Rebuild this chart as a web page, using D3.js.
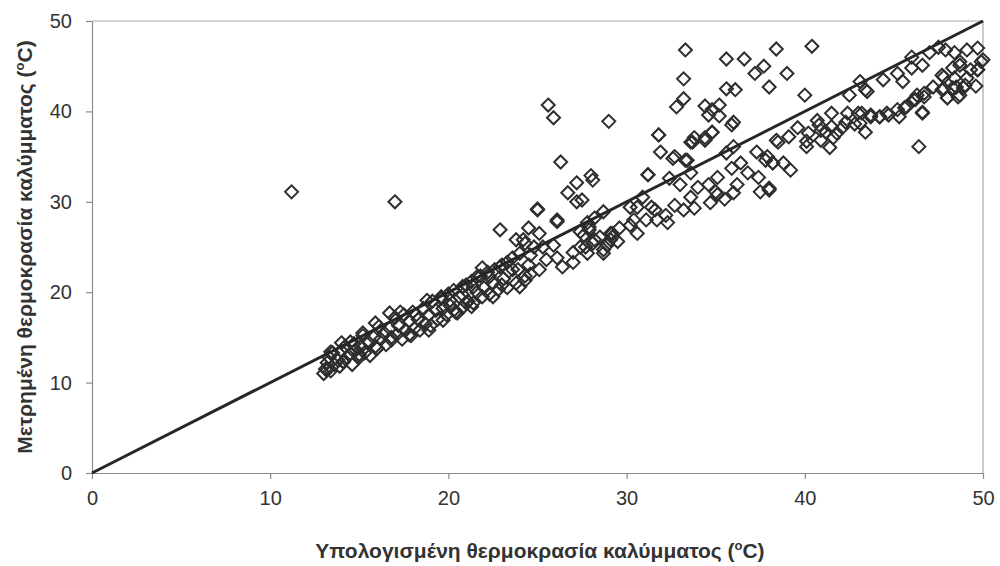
<!DOCTYPE html>
<html>
<head>
<meta charset="utf-8">
<script src="https://cdn.jsdelivr.net/npm/d3@7"></script>
<style>
  html, body { margin: 0; padding: 0; background: #ffffff; }
  svg { display: block; }
</style>
</head>
<body>
<svg id="chart" width="1000" height="566"></svg>
<script>
// Computed (x) vs measured (y) cover temperature, °C
const computedTemp = [
  11.2, 17.0, 25.6, 25.9, 29.0, 26.3, 27.2, 26.7, 27.2, 28.0, 28.1, 25.0, 26.1, 22.9, 27.5,
  33.3, 33.2, 33.2, 32.8, 35.6, 36.6, 37.2, 37.7, 38.4, 39.0, 38.0, 35.6, 36.1, 34.4, 34.8,
  35.2, 34.6, 35.2, 36.0, 31.8, 31.9, 32.7, 33.3, 33.7, 34.4, 34.8, 35.9, 31.2, 40.0, 40.4, 46.4,
  13.0, 13.1, 13.2, 13.3, 13.4, 13.5, 13.6, 13.8, 13.9, 14.0, 14.1, 14.2, 14.3, 14.5, 14.6, 14.7,
  14.8, 15.0, 15.1, 15.2, 15.3, 15.5, 15.6, 15.8, 15.9, 16.0, 16.1, 16.2, 16.4, 16.5, 16.7, 16.8,
  13.4, 14.0, 14.5, 15.2, 15.9, 16.7, 17.3, 18.2, 18.8, 19.6, 20.8,
  13.2, 14.1, 15.0, 16.0, 16.8, 17.8, 18.9, 19.7, 20.5, 21.0,
  17.0, 17.1, 17.2, 17.4, 17.5, 17.6, 17.8, 17.9, 18.0, 18.1, 18.3, 18.4, 18.6, 18.7, 18.9, 19.0,
  19.1, 19.3, 19.4, 19.6, 19.7, 19.9, 20.0, 20.1, 20.3, 20.4,
  20.6, 20.8, 21.0, 21.1, 21.3, 21.4, 21.6, 21.8, 21.9, 22.0, 22.2, 22.3, 22.5, 22.6, 22.8,
  23.0, 23.1, 23.3, 23.4, 23.6, 23.8, 23.9, 24.0, 24.2, 24.3, 24.5, 24.6, 24.8,
  25.0, 26.1, 24.5, 23.8, 24.3, 25.1, 25.3, 24.6, 23.3, 23.6, 22.3, 23.0, 22.5, 21.4, 20.8, 20.1,
  21.3, 20.3, 24.0, 24.3, 25.1, 25.5, 26.1, 26.4, 27.0, 27.4, 27.0, 27.8, 28.1, 28.7, 29.1, 28.5,
  27.4, 27.9, 28.2, 28.7, 29.2, 29.5, 25.9, 22.9, 21.9, 21.6, 20.8,
  31.8, 31.2, 32.6, 33.4, 33.6, 33.8, 34.4, 34.8, 35.6, 36.0, 35.9, 36.4, 36.8, 36.2, 37.4, 37.3,
  37.9, 38.2, 38.5, 37.5, 38.0, 32.4, 33.0, 33.6, 33.6, 34.0, 34.6, 35.1, 35.0, 34.7, 35.1, 33.8,
  33.2, 32.7, 32.2, 32.3, 31.6, 31.1, 31.4, 30.9, 30.6, 30.2, 30.4, 30.2, 30.6, 29.6, 29.1, 27.8,
  27.9, 27.6, 28.2, 28.7, 27.7, 28.9, 29.2, 31.7, 35.5, 36.0,
  43.1, 42.5, 43.5, 44.4, 45.2, 45.5, 46.0, 46.6, 47.7, 48.3, 48.7, 49.7, 47.7, 48.0, 48.5, 49.0,
  48.7, 47.2, 46.7, 46.2, 46.6, 45.6, 45.3, 44.7, 44.2, 43.7, 43.0, 43.1, 43.4, 42.4, 42.3, 41.5,
  41.5, 41.8, 41.2, 40.7, 40.9, 40.2, 39.6, 39.1, 40.1, 41.4, 40.9, 38.4, 37.8, 38.2, 38.8, 39.2,
  38.0, 43.4, 46.0, 47.0, 47.5, 47.9, 48.4, 49.1, 49.7, 50.0, 48.7, 49.3, 49.7, 49.9, 47.8, 48.4,
  49.1, 48.9, 49.6, 47.8, 48.3, 48.0, 48.6, 46.3, 46.7, 46.1, 45.7, 46.6, 45.2, 44.6, 44.2, 43.7,
  43.2, 42.8, 42.1, 40.8, 41.6, 40.1
];
const measuredTemp = [
  31.1, 30.0, 40.7, 39.3, 38.9, 34.4, 32.1, 31.0, 30.0, 32.9, 32.4, 29.2, 28.0, 26.9, 30.2,
  46.8, 43.6, 41.4, 40.5, 45.8, 45.8, 44.2, 45.0, 46.9, 44.2, 42.7, 42.5, 42.4, 40.6, 40.2,
  40.7, 39.6, 39.5, 38.8, 37.4, 35.5, 35.0, 34.6, 36.6, 37.1, 37.7, 38.5, 33.0, 41.8, 47.2, 36.1,
  11.0, 11.5, 12.2, 12.8, 11.3, 13.3, 12.0, 12.5, 11.8, 13.5, 12.3, 14.0, 12.8, 13.2, 12.0, 14.3,
  13.6, 12.8, 14.0, 15.2, 13.3, 14.5, 13.0, 15.0, 14.0, 13.8, 16.2, 14.8, 15.5, 14.2, 16.0, 15.0,
  13.4, 14.4, 14.5, 15.5, 16.6, 17.7, 17.8, 17.5, 19.1, 19.5, 20.6,
  11.4, 12.3, 13.1, 13.8, 14.7, 15.3, 15.8, 16.9, 17.7, 18.8,
  17.2, 15.3, 16.3, 14.8, 17.5, 15.8, 16.8, 15.2, 17.8, 16.0, 17.0, 15.8, 18.2, 16.5, 17.5, 16.3,
  19.0, 18.0, 17.0, 19.3, 18.2, 17.5, 19.8, 18.5, 20.2, 17.8,
  19.5, 18.3, 20.8, 19.0, 21.2, 18.8, 20.0, 21.8, 19.5, 20.5, 22.2, 19.8, 21.0, 22.5, 20.3,
  23.0, 21.5, 20.5, 22.3, 23.8, 21.0, 22.5, 24.3, 25.8, 21.8, 23.0, 22.0, 25.0,
  29.1, 27.8, 27.1, 25.8, 25.4, 26.5, 25.0, 24.1, 23.3, 22.5, 21.7, 20.8, 19.5, 20.6, 20.6, 19.1,
  18.4, 18.0, 20.6, 21.3, 22.5, 23.6, 23.8, 22.8, 23.3, 25.0, 24.4, 24.3, 25.4, 24.7, 25.8, 26.1,
  26.7, 27.2, 28.2, 28.9, 26.5, 25.6, 25.2, 22.8, 22.7, 21.7, 19.7,
  37.4, 33.0, 34.8, 34.6, 36.6, 37.1, 36.8, 37.7, 35.4, 36.1, 33.7, 34.3, 33.2, 31.9, 32.7, 35.5,
  35.0, 34.3, 36.6, 31.1, 31.3, 32.6, 31.9, 33.2, 30.5, 31.6, 31.9, 32.7, 31.1, 29.9, 30.8, 29.3,
  29.1, 29.6, 28.5, 27.7, 29.1, 28.0, 29.4, 30.5, 29.4, 29.4, 28.0, 27.4, 26.5, 27.1, 26.5, 27.7,
  26.9, 26.3, 25.8, 24.3, 25.0, 25.2, 26.1, 28.0, 30.3, 31.0,
  43.3, 41.8, 42.2, 43.5, 44.2, 43.3, 44.8, 45.1, 44.0, 44.8, 45.1, 44.6, 42.4, 41.5, 42.7, 42.9,
  41.8, 42.7, 42.0, 41.3, 39.9, 40.4, 39.4, 39.6, 39.4, 39.6, 39.8, 38.7, 37.7, 39.8, 38.8, 39.8,
  38.3, 37.6, 37.7, 39.0, 37.9, 37.6, 38.2, 37.2, 36.1, 36.0, 36.8, 36.8, 34.6, 34.3, 34.3, 33.5,
  31.5, 42.4, 46.0, 46.5, 47.1, 46.8, 46.5, 46.8, 47.0, 45.7, 45.5, 44.6, 44.6, 45.5, 43.8, 43.7,
  43.7, 42.6, 42.8, 42.5, 42.6, 41.5, 41.6, 41.8, 41.6, 41.3, 40.5, 39.8, 40.2, 39.8, 39.4, 39.4,
  39.8, 38.6, 38.2, 38.5, 37.1, 36.7
];
const xTicks = [0, 10, 20, 30, 40, 50];
const yTicks = [0, 10, 20, 30, 40, 50];
const refLine = [0, 50];

const points = computedTemp.map((c, i) => ({ c, m: measuredTemp[i] }));

const svg = d3.select("#chart");
const plotLeft = 92, plotRight = 983, plotTop = 21, plotBottom = 473;
const fontFam = "'Liberation Sans', Arial, Helvetica, sans-serif";

const x = d3.scaleLinear().domain([0, 50]).range([plotLeft, plotRight]);
const y = d3.scaleLinear().domain([0, 50]).range([plotBottom, plotTop]);

// plot area frame (top and right edges)
svg.append("path")
  .attr("d", `M${plotLeft},${plotTop}H${plotRight}V${plotBottom}`)
  .attr("fill", "none")
  .attr("stroke", "#a8a8a8")
  .attr("stroke-width", 1.2);

// axes
const xAxis = svg.append("g")
  .attr("transform", `translate(0,${plotBottom})`)
  .call(d3.axisBottom(x).tickValues(xTicks).tickSize(6).tickPadding(12).tickSizeOuter(0));
const yAxis = svg.append("g")
  .attr("transform", `translate(${plotLeft},0)`)
  .call(d3.axisLeft(y).tickValues(yTicks).tickSize(6).tickPadding(14).tickSizeOuter(0));

[xAxis, yAxis].forEach(g => {
  g.select(".domain").attr("stroke", "#8c8c8c").attr("stroke-width", 1.2);
  g.selectAll(".tick line").attr("stroke", "#8c8c8c").attr("stroke-width", 1.2);
  g.selectAll(".tick text")
    .attr("fill", "#333")
    .style("font-family", fontFam)
    .style("font-size", "20px");
});

// markers: hollow diamonds
const r = 6.5;
svg.append("g")
  .selectAll("path")
  .data(points)
  .join("path")
  .attr("transform", d => `translate(${x(d.c)},${y(d.m)})`)
  .attr("d", `M0,${-r}L${r},0L0,${r}L${-r},0Z`)
  .attr("fill", "none")
  .attr("stroke", "#2e2e2e")
  .attr("stroke-width", 2);

// 1:1 reference line
svg.append("line")
  .attr("x1", x(refLine[0])).attr("y1", y(refLine[0]))
  .attr("x2", x(refLine[1])).attr("y2", y(refLine[1]))
  .attr("stroke", "#262626")
  .attr("stroke-width", 3);

// axis titles
const xTitle = svg.append("text")
  .attr("x", 540).attr("y", 558)
  .attr("text-anchor", "middle")
  .attr("fill", "#333")
  .style("font-family", fontFam)
  .style("font-size", "21px")
  .style("font-weight", "bold");
xTitle.append("tspan").text("Υπολογισμένη θερμοκρασία καλύμματος (");
xTitle.append("tspan").attr("dy", -8).style("font-size", "13px").text("o");
xTitle.append("tspan").attr("dy", 8).text("C)");

const yTitle = svg.append("text")
  .attr("transform", "translate(32,247) rotate(-90)")
  .attr("text-anchor", "middle")
  .attr("fill", "#333")
  .style("font-family", fontFam)
  .style("font-size", "21px")
  .style("font-weight", "bold");
yTitle.append("tspan").text("Μετρημένη θερμοκρασία καλύμματος (");
yTitle.append("tspan").attr("dy", -8).style("font-size", "13px").text("o");
yTitle.append("tspan").attr("dy", 8).text("C)");
</script>
</body>
</html>
